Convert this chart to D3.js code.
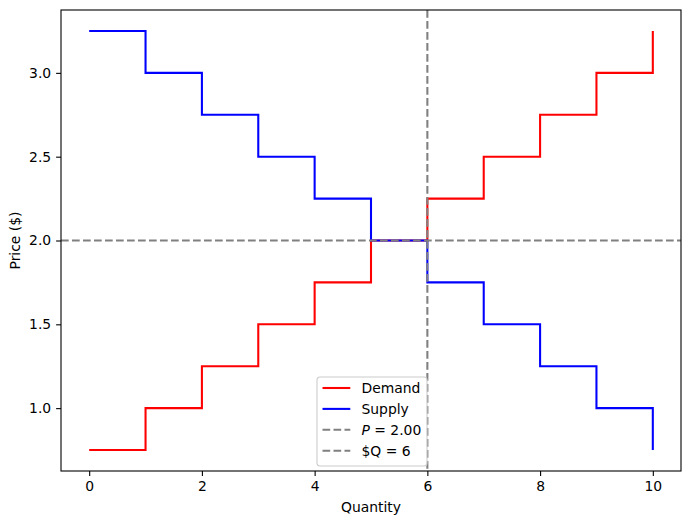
<!DOCTYPE html>
<html>
<head>
<meta charset="utf-8">
<script src="https://cdn.jsdelivr.net/npm/d3@7"></script>
<style>
  body { margin: 0; background: #fff; }
  text { font-family: "DejaVu Sans", sans-serif; }
</style>
</head>
<body>
<div id="chart"></div>
<script>
const quantity = [0, 1, 2, 3, 4, 5, 6, 7, 8, 9, 10]
const demand = [0.75, 1.0, 1.25, 1.5, 1.75, 2.0, 2.25, 2.5, 2.75, 3.0, 3.25]
const supply = [3.25, 3.0, 2.75, 2.5, 2.25, 2.0, 1.75, 1.5, 1.25, 1.0, 0.75]
const eqPrice = 2.0
const eqQuantity = 6
const xTicks = [0, 2, 4, 6, 8, 10]
const yTicks = [1.0, 1.5, 2.0, 2.5, 3.0]

let W = 691, H = 525
let margin = { top: 10, right: 10, bottom: 54, left: 61 }
let width = W - margin.left - margin.right
let height = H - margin.top - margin.bottom

let x = d3.scaleLinear().domain([-0.5, 10.5]).range([0, width])
let y = d3.scaleLinear().domain([0.625, 3.375]).range([height, 0])

let svg = d3.select('#chart').append('svg')
    .attr('width', W).attr('height', H)
let g = svg.append('g').attr('transform', `translate(${margin.left},${margin.top})`)

let defs = svg.append('defs')
defs.append('clipPath').attr('id', 'clip')
    .append('rect').attr('width', width).attr('height', height)

let plot = g.append('g').attr('clip-path', 'url(#clip)')

let line = d3.line()
    .x((d) => x(d[0]))
    .y((d) => y(d[1]))
    .curve(d3.curveStepAfter)

plot.append('path')
    .datum(quantity.map((q, i) => [q, demand[i]]))
    .attr('d', line)
    .attr('fill', 'none').attr('stroke', 'red').attr('stroke-width', 2.08)

plot.append('path')
    .datum(quantity.map((q, i) => [q, supply[i]]))
    .attr('d', line)
    .attr('fill', 'none').attr('stroke', 'blue').attr('stroke-width', 2.08)

let dash = '7.7,3.3'
plot.append('line')
    .attr('x1', 0).attr('x2', width)
    .attr('y1', y(eqPrice)).attr('y2', y(eqPrice))
    .attr('stroke', 'gray').attr('stroke-width', 2.08).attr('stroke-dasharray', dash)

plot.append('line')
    .attr('x1', x(eqQuantity)).attr('x2', x(eqQuantity))
    .attr('y1', 0).attr('y2', height)
    .attr('stroke', 'gray').attr('stroke-width', 2.08).attr('stroke-dasharray', dash)

// axes
let xAxis = g.append('g')
    .attr('transform', `translate(0,${height})`)
    .call(d3.axisBottom(x).tickValues(xTicks).tickSize(4.9).tickPadding(4.9).tickFormat(d3.format('d')))
let yAxis = g.append('g')
    .call(d3.axisLeft(y).tickValues(yTicks).tickSize(4.9).tickPadding(4.9).tickFormat(d3.format('.1f')))

for (let ax of [xAxis, yAxis]) {
    ax.select('.domain').remove()
    ax.selectAll('.tick line').attr('stroke', '#000').attr('stroke-width', 1.1)
    ax.selectAll('.tick text').attr('fill', '#000')
        .style('font-size', '13.9px').style('font-family', '"DejaVu Sans", sans-serif')
}

g.append('rect')
    .attr('width', width).attr('height', height)
    .attr('fill', 'none').attr('stroke', '#000').attr('stroke-width', 1.1)

g.append('text')
    .attr('x', width / 2).attr('y', height + 41)
    .attr('text-anchor', 'middle')
    .style('font-size', '13.9px')
    .text('Quantity')

g.append('text')
    .attr('transform', `translate(${-41},${height / 2}) rotate(-90)`)
    .attr('text-anchor', 'middle')
    .style('font-size', '13.9px')
    .text('Price ($)')

// legend
let legendItems = [
    { label: 'Demand', color: 'red', dash: null },
    { label: 'Supply', color: 'blue', dash: null },
    { label: 'P', color: 'gray', dash: dash, math: true },
    { label: '$Q = 6', color: 'gray', dash: dash }
]
let lg = g.append('g').attr('transform', `translate(${317 - margin.left},${377 - margin.top})`)
lg.append('rect')
    .attr('width', 110).attr('height', 89)
    .attr('rx', 3).attr('ry', 3)
    .attr('fill', 'white').attr('fill-opacity', 0.8)
    .attr('stroke', '#cccccc').attr('stroke-width', 1.1)

let row = lg.selectAll('.row')
    .data(legendItems)
    .enter().append('g')
    .attr('class', 'row')
    .attr('transform', (d, i) => `translate(0,${11 + i * 20.9})`)

row.append('line')
    .attr('x1', 5.5).attr('x2', 33.3)
    .attr('stroke', (d) => d.color)
    .attr('stroke-width', 2.08)
    .attr('stroke-dasharray', (d) => d.dash)

let txt = row.append('text')
    .attr('x', 44.5).attr('dy', '0.35em')
    .style('font-size', '13.9px')
txt.filter((d) => !d.math).text((d) => d.label)
let mt = txt.filter((d) => d.math)
mt.append('tspan').style('font-style', 'italic').text('P')
mt.append('tspan').text(' = 2.00')
</script>
</body>
</html>
